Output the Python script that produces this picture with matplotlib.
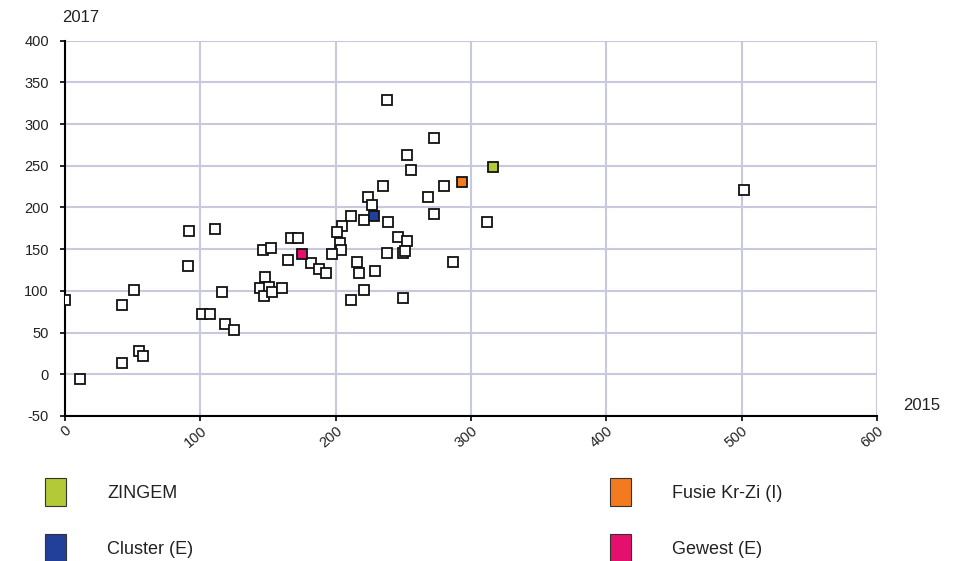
import matplotlib
matplotlib.use("Agg")
import matplotlib.pyplot as plt
from matplotlib.patches import Rectangle

plt.rcParams['font.family'] = ['Liberation Sans', 'DejaVu Sans']
plt.rcParams['axes.unicode_minus'] = False

# gemeenten: 2015 (x) tegen 2017 (y)
x_2015 = [0, 11, 42, 42, 51, 55, 58, 92, 91, 111, 101, 107, 116, 118, 125,
          146, 152, 148, 144, 151, 147, 153, 160, 167, 172, 165, 182, 188, 193,
          238, 273, 253, 256, 280, 235, 268, 224, 227, 221, 211, 273, 312, 239,
          205, 201, 203, 204, 197, 246, 253, 238, 250, 251, 216, 217, 229, 287,
          221, 211, 250, 502]
y_2017 = [89, -6, 14, 83, 101, 28, 22, 172, 130, 174, 72, 72, 99, 60, 53,
          149, 151, 117, 104, 105, 94, 99, 103, 164, 163, 137, 133, 126, 122,
          329, 283, 263, 245, 226, 226, 212, 212, 203, 185, 190, 192, 183, 183,
          178, 171, 158, 149, 144, 165, 160, 146, 146, 148, 135, 122, 124, 135,
          101, 89, 92, 221]

# gemarkeerde punten
hl_names = ['ZINGEM', 'Fusie Kr-Zi (I)', 'Cluster (E)', 'Gewest (E)']
hl_x = [316, 293, 228, 175]
hl_y = [249, 231, 190, 144]
hl_colors = ['#b3c938', '#f47a20', '#22409a', '#e5106e']

fig = plt.figure(figsize=(9.68, 5.61), dpi=100)
ax = fig.add_axes([0.0671, 0.2585, 0.8390, 0.6690])

ax.plot(x_2015, y_2017, 's', ms=7.8, mfc='white', mec='#111111', mew=1.3,
        linestyle='none', zorder=3)
for hx, hy, c in zip(hl_x, hl_y, hl_colors):
    ax.plot([hx], [hy], 's', ms=7.8, mfc=c, mec='#111111', mew=1.3, zorder=4)

ax.set_xlim(0, 600)
ax.set_ylim(-50, 400)
ax.set_xticks(range(0, 601, 100))
ax.set_yticks(range(-50, 401, 50))
ax.grid(True, color='#c9c9dd', linewidth=1.5, zorder=0)
ax.set_axisbelow(True)

for s in ['top', 'right']:
    ax.spines[s].set_visible(False)
ax.spines['left'].set_linewidth(1.5)
ax.spines['bottom'].set_linewidth(1.5)
ax.tick_params(axis='both', colors='black', length=3.5, width=1.2,
               labelcolor='#222222', labelsize=10.5)
ax.tick_params(axis='y', pad=8)
ax.tick_params(axis='x', pad=2)
for lbl in ax.get_xticklabels():
    lbl.set_rotation(40)
    lbl.set_ha('right')
    lbl.set_va('top')
    lbl.set_rotation_mode('anchor')

fig.text(62 / 968, 1 - 17 / 561, '2017', fontsize=12, color='#222222',
         ha='left', va='center')
fig.text(903 / 968, 1 - 406 / 561, '2015', fontsize=12, color='#222222',
         ha='left', va='center')

# legende
leg_pos = [(45, 478), (610, 478), (45, 534), (610, 534)]
for (lx, ly), name, c in zip(leg_pos, hl_names, hl_colors):
    fig.patches.append(Rectangle((lx / 968, 1 - (ly + 28) / 561), 21 / 968, 28 / 561,
                                 transform=fig.transFigure, facecolor=c,
                                 edgecolor='#333333', linewidth=0.8))
    fig.text((lx + 62) / 968, 1 - (ly + 15) / 561, name, fontsize=13,
             color='#222222', ha='left', va='center')

fig.savefig('out.png', dpi=100)
